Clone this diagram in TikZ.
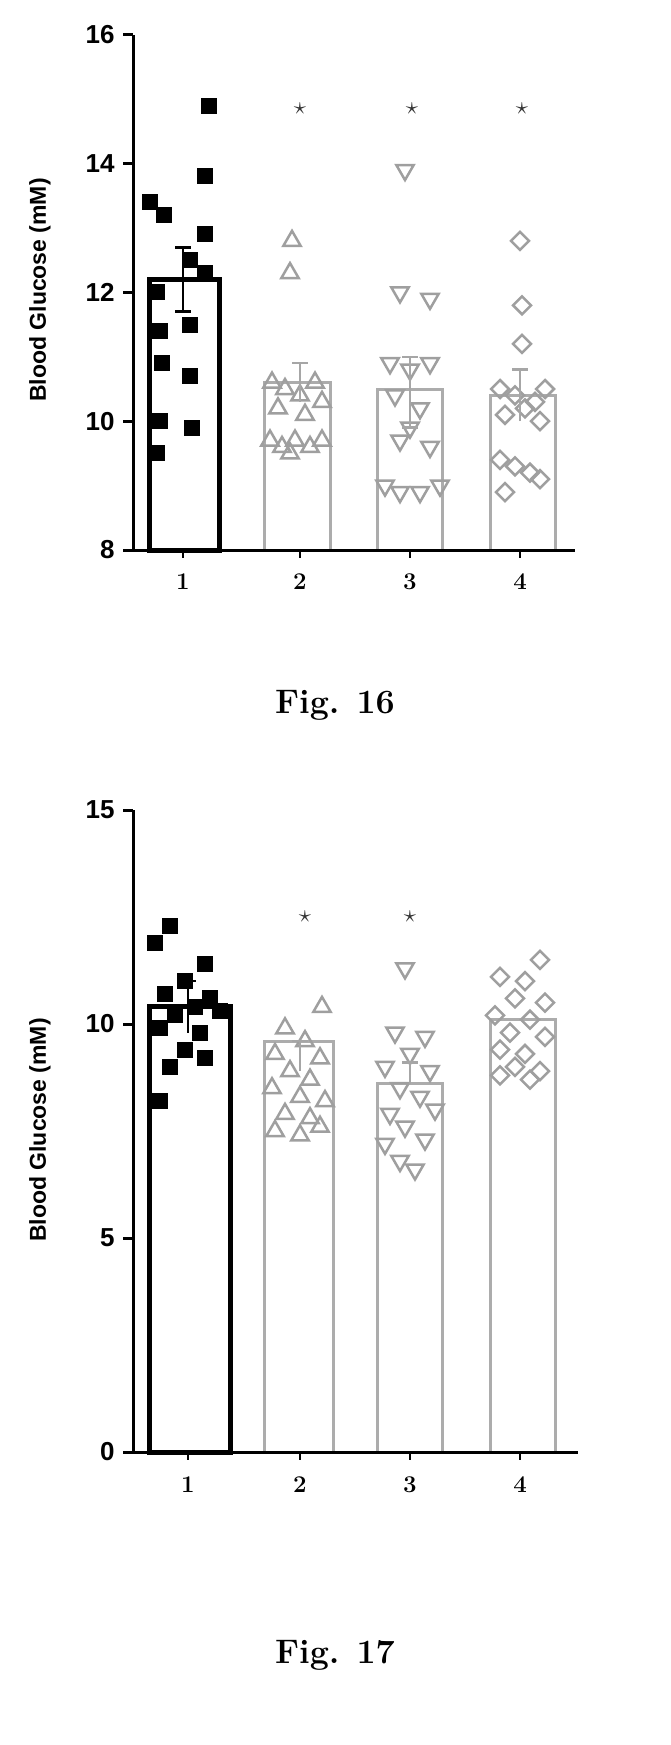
\documentclass[tikz,border=0pt]{standalone}
\usepackage{fontspec}
\setsansfont{Liberation Sans}
\usetikzlibrary{shapes.geometric}
\begin{document}
\begin{tikzpicture}[x=1pt,y=-1pt,
  declare function={ya(\v)=550-(\v-8)*64.4; yb(\v)=1452-\v*42.8;},
  ax/.style={line width=3pt,black},
  sq/.style={fill=black,minimum size=16pt,inner sep=0pt,rectangle},
  tu/.style={draw=gray!75,line width=2.5pt,regular polygon,regular polygon sides=3,minimum size=20pt,inner sep=0pt},
  td/.style={tu,shape border rotate=180},
  dm/.style={draw=gray!75,line width=2.5pt,diamond,minimum size=19pt,inner sep=0pt},
  bar1/.style={draw=black,line width=5pt,fill=white},
  barg/.style={draw=gray!65,line width=3pt,fill=white},
  star/.style={font=\fontsize{40}{40}\selectfont,text=gray!40!black},
  tl/.style={font=\sffamily\bfseries\fontsize{26}{28}\selectfont},
  figcap/.style={font=\bfseries\fontsize{34}{38}\selectfont}]
\useasboundingbox (0,0) rectangle (671,1745);
% ---------------- Fig 16 ----------------
\draw[bar1] (149,550) rectangle (219,{ya(12.2)});
\draw[barg] (264,550) rectangle (330,{ya(10.6)});
\draw[barg] (377,550) rectangle (442,{ya(10.5)});
\draw[barg] (490,550) rectangle (555,{ya(10.4)});
\foreach \x/\v in {150/13.4,164/13.2,209/14.9,205/13.8,205/12.9,190/12.5,205/12.3,157/12.0,160/11.4,190/11.5,162/10.9,190/10.7,160/10.0,192/9.9,157/9.5}
  \node[sq] at (\x,{ya(\v)}) {};
\foreach \x/\v in {292/12.8,290/12.3,272/10.6,285/10.5,300/10.4,315/10.6,322/10.3,278/10.2,305/10.1,270/9.7,282/9.6,295/9.7,310/9.6,322/9.7,290/9.5}
  \node[tu] at (\x,{ya(\v)}) {};
\foreach \x/\v in {405/13.9,400/12.0,430/11.9,390/10.9,410/10.8,430/10.9,395/10.4,420/10.2,400/9.7,430/9.6,385/9.0,400/8.9,420/8.9,440/9.0,410/9.9}
  \node[td] at (\x,{ya(\v)}) {};
\foreach \x/\v in {520/12.8,522/11.8,522/11.2,500/10.5,515/10.4,535/10.3,545/10.5,505/10.1,525/10.2,540/10.0,500/9.4,515/9.3,530/9.2,505/8.9,540/9.1}
  \node[dm] at (\x,{ya(\v)}) {};
\draw[line width=2.5pt] (183,{ya(11.7)}) -- (183,{ya(12.7)}) (175,{ya(12.7)}) -- (191,{ya(12.7)}) (175,{ya(11.7)}) -- (191,{ya(11.7)});
\draw[gray!70,line width=2.5pt] (300,{ya(10.3)}) -- (300,{ya(10.9)}) (292,{ya(10.9)}) -- (308,{ya(10.9)});
\draw[gray!70,line width=2.5pt] (410,{ya(9.9)}) -- (410,{ya(11.0)}) (402,{ya(11.0)}) -- (418,{ya(11.0)}) (402,{ya(9.9)}) -- (418,{ya(9.9)});
\draw[gray!70,line width=2.5pt] (520,{ya(10.0)}) -- (520,{ya(10.8)}) (512,{ya(10.8)}) -- (528,{ya(10.8)});
\foreach \x in {300,412,522} \node[star] at (\x,{ya(14.85)}) {$\star$};
\draw[ax] (133,35) -- (133,550) -- (575,550);
\foreach \v in {8,10,...,16} {\draw[ax] (123,{ya(\v)}) -- (133,{ya(\v)}); \node[tl,anchor=east] at (118,{ya(\v)}) {\v};}
\foreach \x/\l in {183/1,300/2,410/3,520/4} {\draw[line width=2pt] (\x,550) -- (\x,558); \node[font=\bfseries\fontsize{24}{26}\selectfont] at (\x,582) {\l};}
\node[font=\sffamily\bfseries\fontsize{23}{26}\selectfont,rotate=90] at (40,290) {Blood Glucose (mM)};
\node[figcap] at (335,705) {Fig. 16};
% ---------------- Fig 17 ----------------
\draw[bar1] (149,1452) rectangle (230,{yb(10.4)});
\draw[barg] (264,1452) rectangle (333,{yb(9.6)});
\draw[barg] (377,1452) rectangle (442,{yb(8.6)});
\draw[barg] (490,1452) rectangle (555,{yb(10.1)});
\foreach \x/\v in {170/12.3,155/11.9,205/11.4,185/11.0,165/10.7,210/10.6,195/10.4,175/10.2,220/10.3,160/9.9,200/9.8,185/9.4,170/9.0,205/9.2,160/8.2}
  \node[sq] at (\x,{yb(\v)}) {};
\foreach \x/\v in {322/10.4,285/9.9,305/9.6,275/9.3,320/9.2,290/8.9,310/8.7,272/8.5,300/8.3,325/8.2,285/7.9,310/7.8,275/7.5,300/7.4,320/7.6}
  \node[tu] at (\x,{yb(\v)}) {};
\foreach \x/\v in {405/11.3,395/9.8,425/9.7,410/9.3,385/9.0,430/8.9,400/8.5,420/8.3,390/7.9,435/8.0,405/7.6,385/7.2,425/7.3,400/6.8,415/6.6}
  \node[td] at (\x,{yb(\v)}) {};
\foreach \x/\v in {540/11.5,500/11.1,525/11.0,515/10.6,545/10.5,495/10.2,530/10.1,510/9.8,545/9.7,500/9.4,525/9.3,515/9.0,540/8.9,500/8.8,530/8.7}
  \node[dm] at (\x,{yb(\v)}) {};
\draw[line width=2.5pt] (188,{yb(9.8)}) -- (188,{yb(11.0)}) (180,{yb(11.0)}) -- (196,{yb(11.0)});
\draw[gray!70,line width=2.5pt] (300,{yb(8.9)}) -- (300,{yb(9.6)}) (292,{yb(9.6)}) -- (308,{yb(9.6)});
\draw[gray!70,line width=2.5pt] (410,{yb(8.6)}) -- (410,{yb(9.1)}) (402,{yb(9.1)}) -- (418,{yb(9.1)});
\foreach \x in {305,410} \node[star] at (\x,{yb(12.5)}) {$\star$};
\draw[ax] (133,810) -- (133,1452) -- (578,1452);
\foreach \v in {0,5,10,15} {\draw[ax] (123,{yb(\v)}) -- (133,{yb(\v)}); \node[tl,anchor=east] at (118,{yb(\v)}) {\v};}
\foreach \x/\l in {188/1,300/2,410/3,520/4} {\draw[line width=2pt] (\x,1452) -- (\x,1460); \node[font=\bfseries\fontsize{24}{26}\selectfont] at (\x,1485) {\l};}
\node[font=\sffamily\bfseries\fontsize{23}{26}\selectfont,rotate=90] at (40,1130) {Blood Glucose (mM)};
\node[figcap] at (335,1655) {Fig. 17};
\end{tikzpicture}
\end{document}
